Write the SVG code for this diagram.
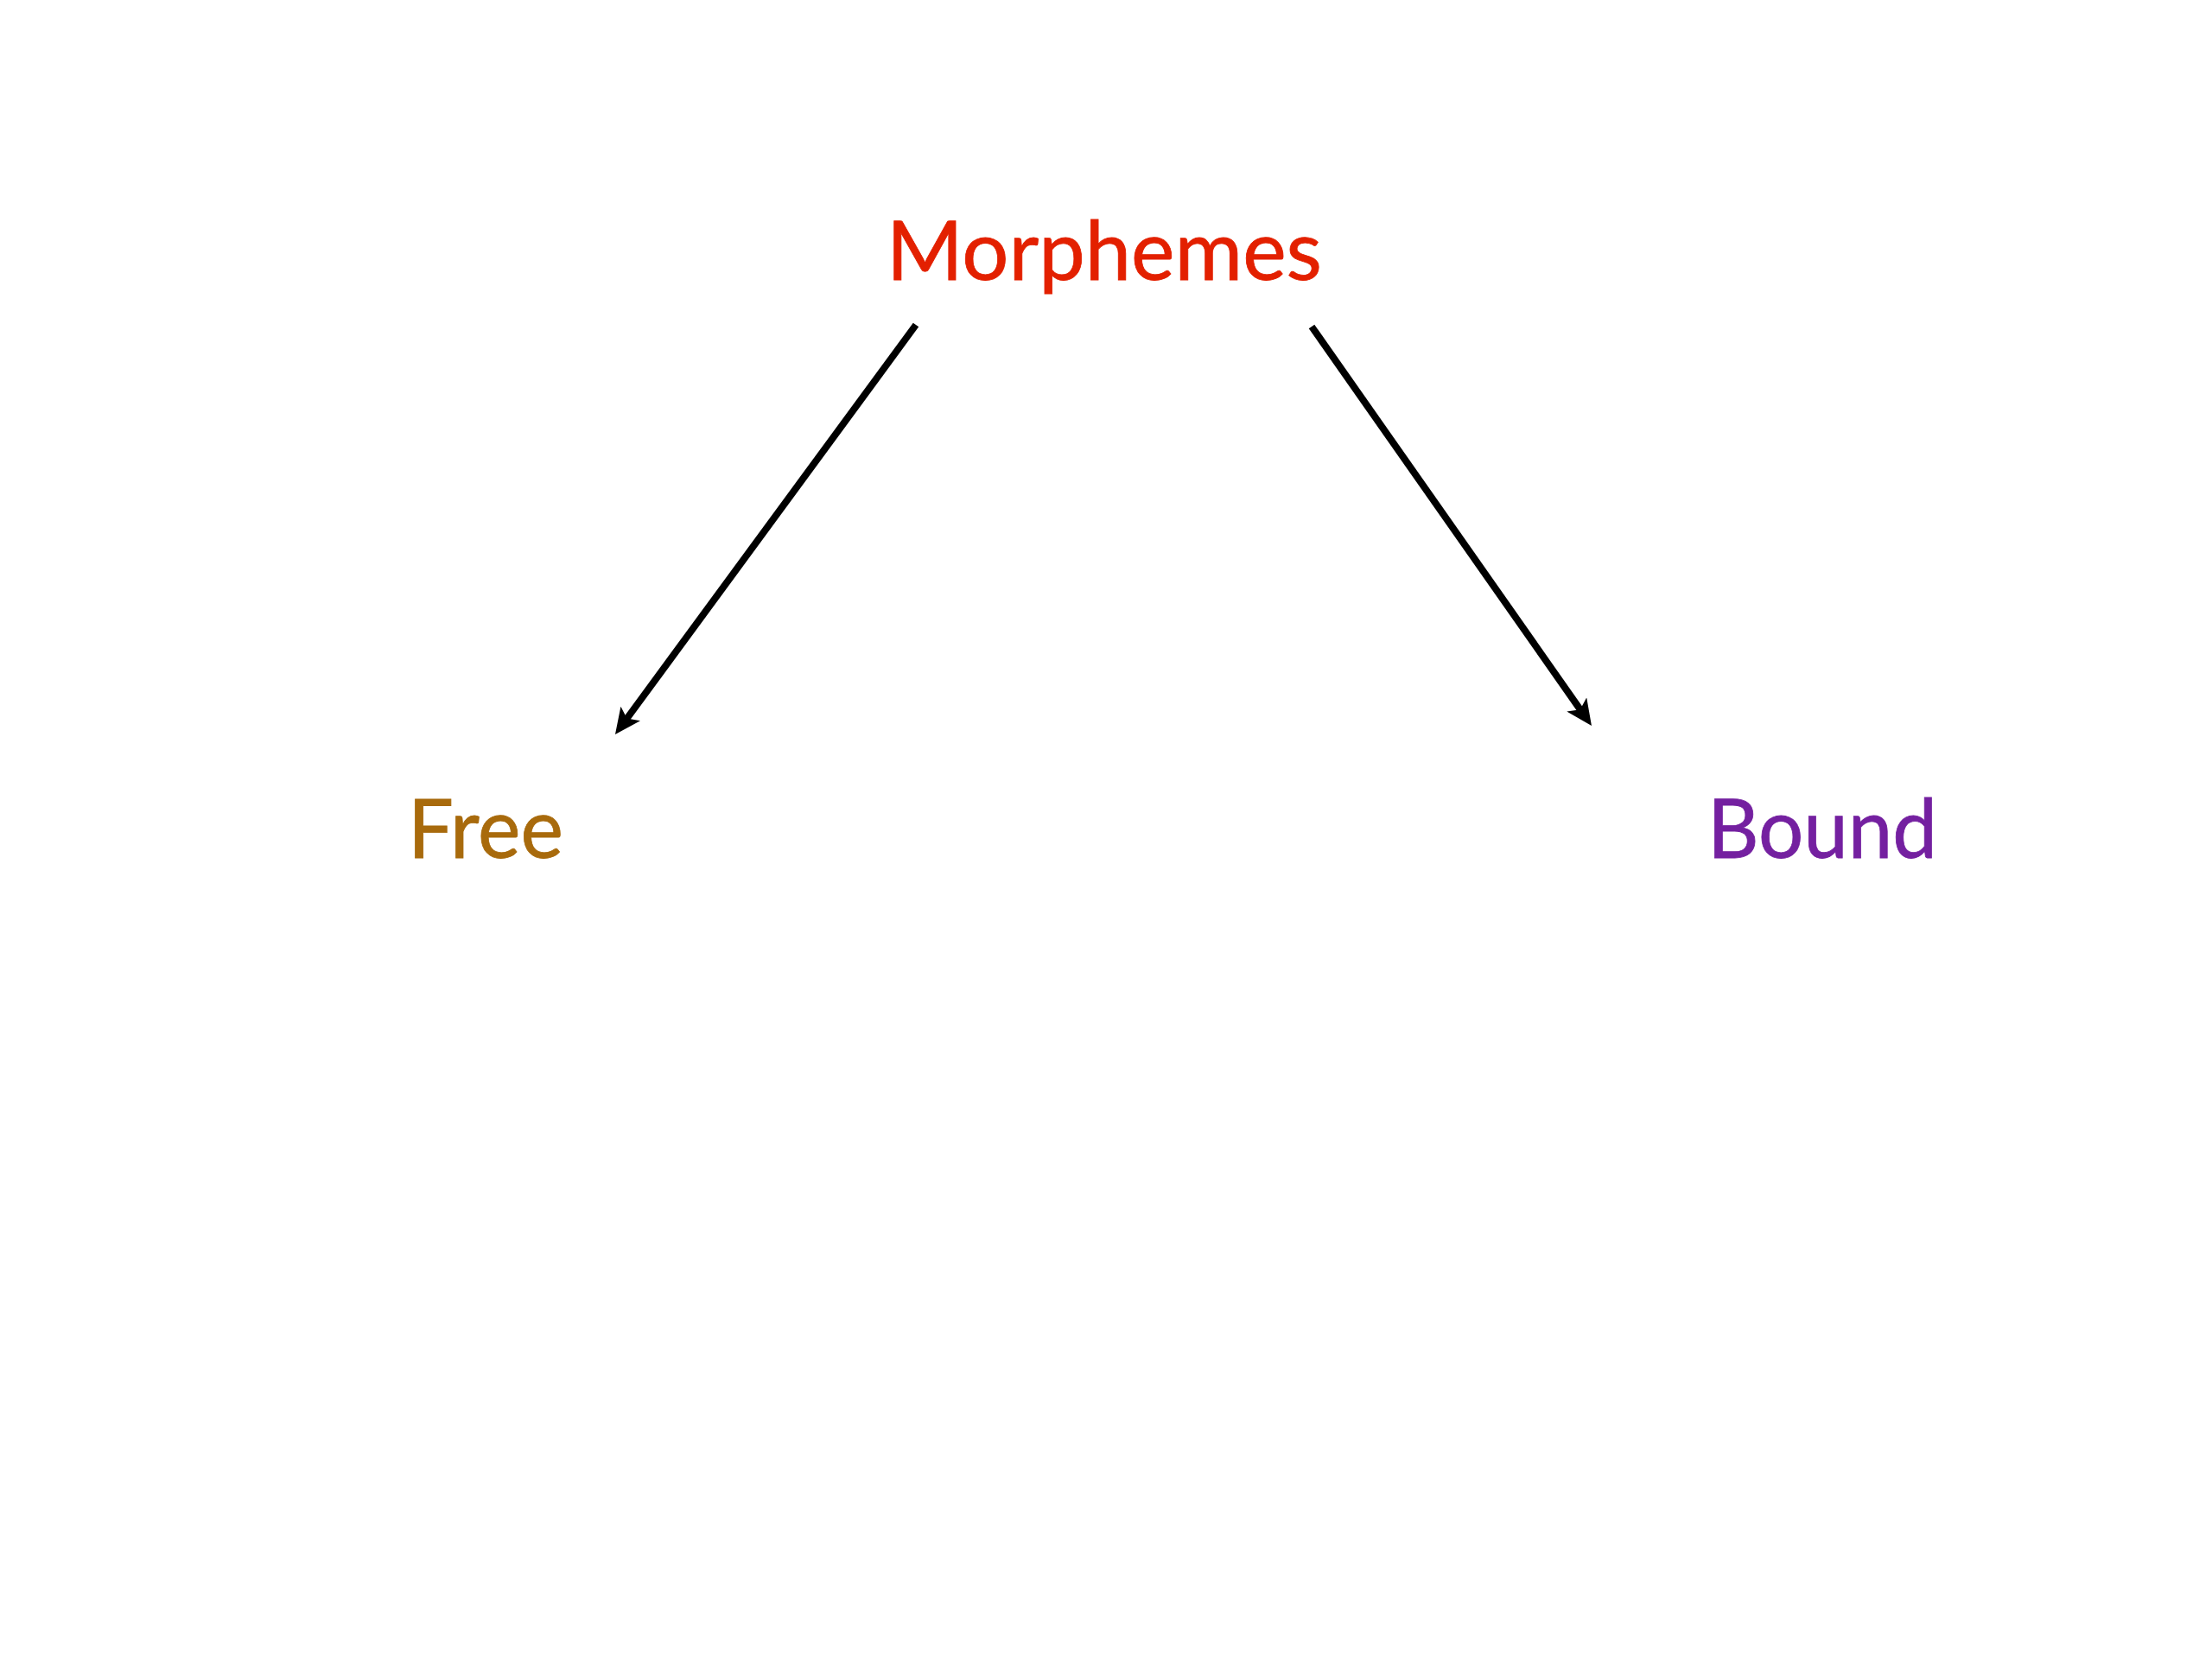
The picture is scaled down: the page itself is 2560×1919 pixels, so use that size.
<svg xmlns="http://www.w3.org/2000/svg" width="2560" height="1919" viewBox="0 0 2560 1919">
  <style>
    .lbl { font-family: Lato, "Open Sans", "Liberation Sans", sans-serif; font-size: 95px; stroke-width: 0.8; }
    .conn { stroke: #000; stroke-width: 8; fill: none; marker-end: url(#arrow); }
  </style>
  <defs>
    <marker id="arrow" markerUnits="userSpaceOnUse" markerWidth="34" markerHeight="34" viewBox="0 0 34 34" refX="10" refY="14" orient="auto">
      <path d="M0,0 L30,14 L0,28 L7,14 Z" fill="#000"/>
    </marker>
  </defs>
  <rect width="2560" height="1919" fill="#fff"/>
  <g id="connectors">
    <line class="conn" x1="1060" y1="376" x2="723.8" y2="834" />
    <line class="conn" x1="1518" y1="378" x2="1830.5" y2="823.6"/>
  </g>
  <g id="node-morphemes">
    <text class="lbl" x="1026" y="324" fill="#E32000" stroke="#E32000" textLength="504" lengthAdjust="spacingAndGlyphs">Morphemes</text>
  </g>
  <g id="node-free">
    <text class="lbl" x="472" y="993" fill="#A86A0C" stroke="#A86A0C" textLength="180" lengthAdjust="spacingAndGlyphs">Free</text>
  </g>
  <g id="node-bound">
    <text class="lbl" x="1976" y="993" fill="#7420A0" stroke="#7420A0" textLength="266" lengthAdjust="spacingAndGlyphs">Bound</text>
  </g>
</svg>
